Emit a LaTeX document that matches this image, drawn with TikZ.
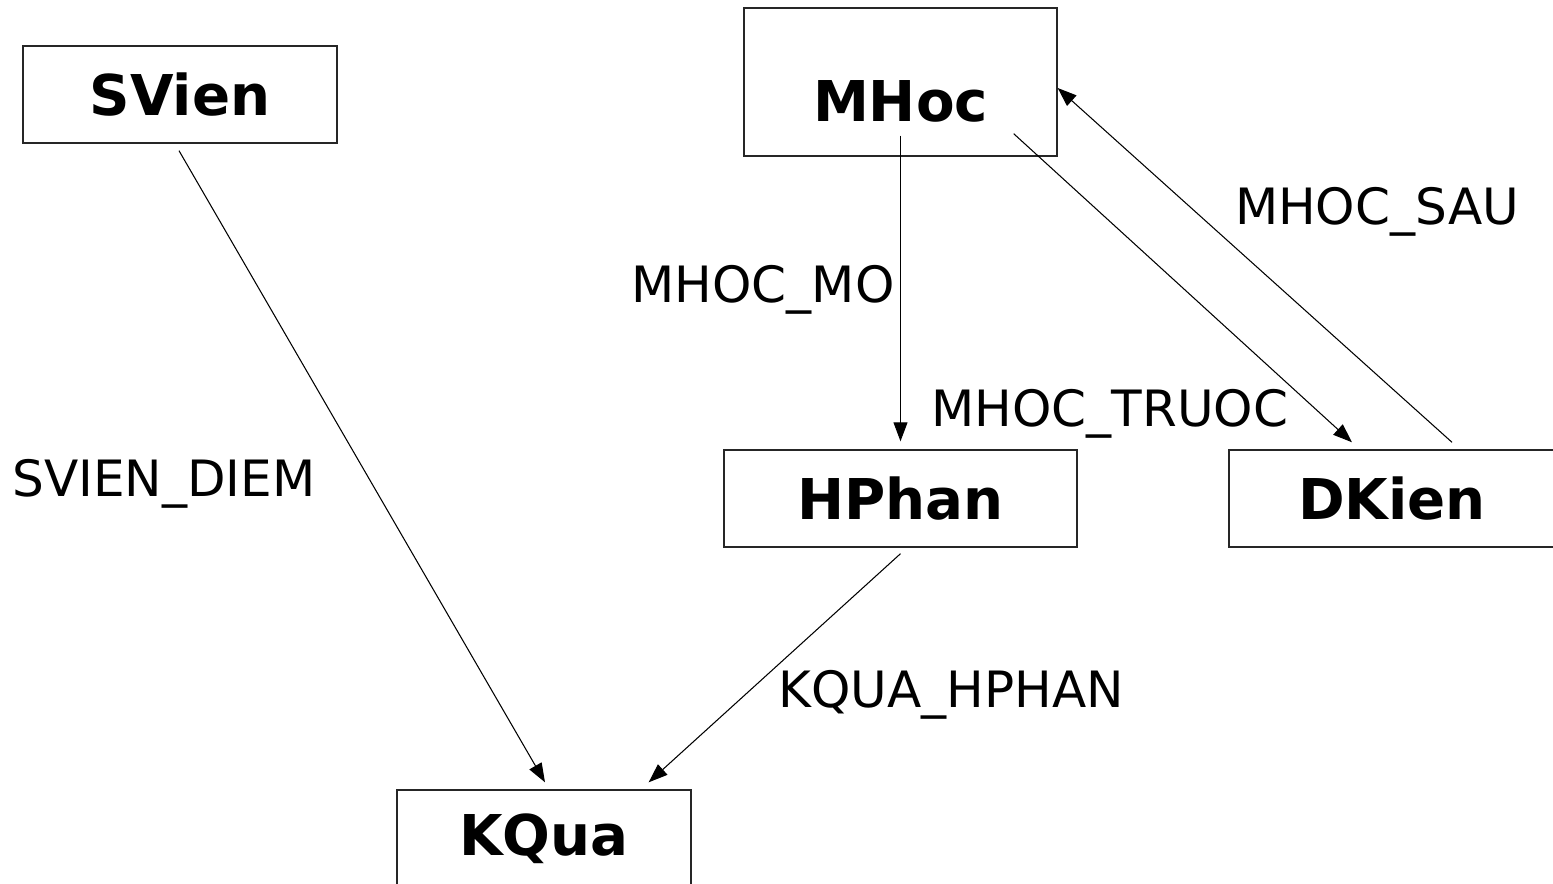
\documentclass[tikz,border=0pt]{standalone}
\usepackage{fontspec}
\setmainfont{DejaVu Sans}
\usetikzlibrary{arrows.meta}
\begin{document}
\begin{tikzpicture}[
        x=0.02cm, y=-0.02cm,
        line width=0.6pt
    ]
    \tikzset{
        tbl/.style = {rectangle, draw=black!85, line width=0.8pt, minimum height=1.94cm, inner sep=0pt, font=\fontsize{32}{38}\selectfont\bfseries},
        rel/.style = {anchor=base, inner sep=0pt, font=\fontsize{28.5}{34}\selectfont},
        link/.style = {-{Triangle[length=0.38cm,width=0.28cm]}},
    }
    \useasboundingbox (0,0) rectangle (1553,884);
    % tables
    \node[tbl, minimum width=6.28cm] (svien) at (180,94.5) {SVien};
    \node[tbl, minimum width=6.26cm, minimum height=2.96cm, text height=1.6cm, text depth=0pt] (mhoc) at (900.5,82) {MHoc};
    \node[tbl, minimum width=7.06cm] (hphan) at (900.5,498.5) {HPhan};
    \node[tbl, minimum width=6.52cm] (dkien) at (1392,498.5) {DKien};
    \node[tbl, minimum width=5.88cm] (kqua) at (544,838.5) {KQua};
    % relations
    \draw[link] ([shift={(-1,7)}]svien.south) -- ([shift={(1,-7)}]kqua.north);
    \draw[link] ([shift={(0,6)}]hphan.south) -- ([shift={(-43,-7)}]kqua.north east);
    \draw[link] ([shift={(0,-21)}]mhoc.south) -- ([shift={(0,-8)}]hphan.north);
    \draw[link] ([shift={(-44,-23)}]mhoc.south east) -- ([shift={(-40,-7)}]dkien.north);
    \draw[link] ([shift={(60,-7)}]dkien.north) -- ([shift={(0,6)}]mhoc.east);
    % labels
    \node[rel] (svdiem) at (164,497) {SVIEN\_DIEM};
    \node[rel] (mhmo) at (763,303) {MHOC\_MO};
    \node[rel] (mhtruoc) at (1110,427) {MHOC\_TRUOC};
    \node[rel] (mhsau) at (1377,225) {MHOC\_SAU};
    \node[rel] (kqhphan) at (951,708) {KQUA\_HPHAN};
\end{tikzpicture}
\end{document}
